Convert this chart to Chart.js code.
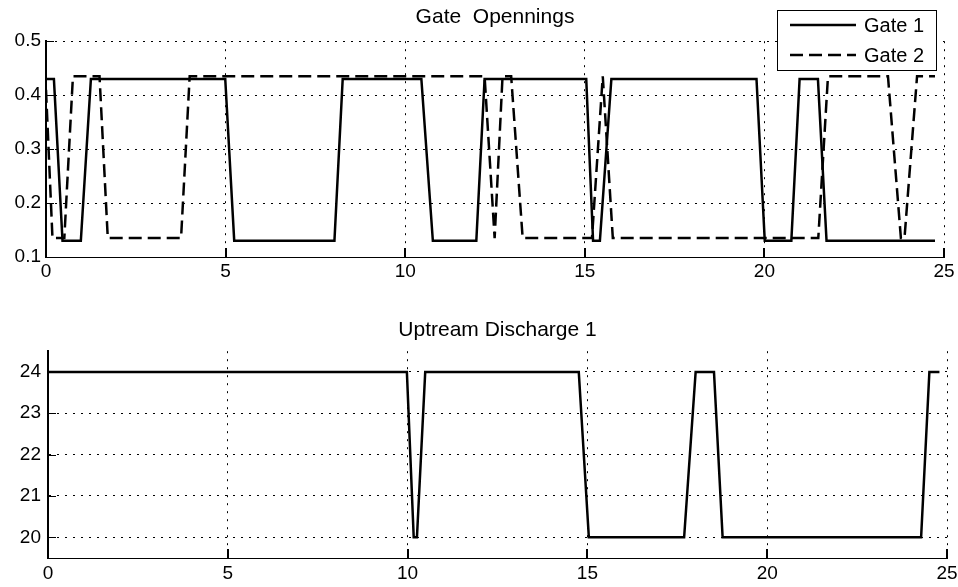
<!DOCTYPE html>
<html><head><meta charset="utf-8">
<script src="https://cdn.jsdelivr.net/npm/chart.js@4/dist/chart.umd.min.js"></script>
<style>
html,body{margin:0;padding:0;background:#fff;}
#wrap{position:relative;width:958px;height:587px;overflow:hidden;background:#fff;}
canvas{position:absolute;left:0;}
#c1{top:0;} #c2{top:290px;}
</style></head><body>
<div id="wrap">
<canvas id="c1" width="958" height="290"></canvas>
<canvas id="c2" width="958" height="297"></canvas>
</div>
<script>
// ---- data ----
const topTitle = 'Gate  Opennings';
const bottomTitle = 'Uptream Discharge 1';
const seriesNames = ['Gate 1', 'Gate 2'];
const xTicks = [0, 5, 10, 15, 20, 25];
const gateYTicks = [0.1, 0.2, 0.3, 0.4, 0.5];
const dischargeYTicks = [20, 21, 22, 23, 24];

const gate1X = [0, 0.22, 0.46, 0.97, 1.25, 4.99, 5.24, 8.03, 8.26, 10.45, 10.77, 11.98, 12.21, 15.04, 15.23, 15.42, 15.74, 19.78, 20.01, 20.75, 20.98, 21.49, 21.73, 24.75];
const gate1Y = [0.43, 0.43, 0.13, 0.13, 0.43, 0.43, 0.13, 0.13, 0.43, 0.43, 0.13, 0.13, 0.43, 0.43, 0.13, 0.13, 0.43, 0.43, 0.13, 0.13, 0.43, 0.43, 0.13, 0.13];

const gate2X = [0, 0.18, 0.51, 0.75, 1.49, 1.72, 3.76, 4.0, 12.21, 12.49, 12.71, 12.95, 13.27, 15.2, 15.5, 15.78, 21.5, 21.77, 23.44, 23.8, 23.9, 24.25, 24.75];
const gate2Y = [0.41, 0.135, 0.135, 0.435, 0.435, 0.135, 0.135, 0.435, 0.435, 0.135, 0.435, 0.435, 0.135, 0.135, 0.435, 0.135, 0.135, 0.435, 0.435, 0.135, 0.135, 0.435, 0.435];

const dischargeX = [0, 9.98, 10.17, 10.26, 10.49, 14.76, 15.04, 17.69, 18.01, 18.52, 18.76, 24.28, 24.51, 24.79];
const dischargeY = [24, 24, 20, 20, 24, 24, 20, 20, 24, 24, 20, 20, 24, 24];

// ---- setup ----
const FONT = '"Liberation Sans", Arial, Helvetica, sans-serif';
Chart.defaults.font.family = FONT;
Chart.defaults.color = '#000';

const pts = (xs, ys) => xs.map((x, i) => ({x: x, y: ys[i]}));

const inwardTicks = {
  id: 'inwardTicks',
  afterDraw(chart) {
    const {ctx, chartArea: a, scales: {x, y}} = chart;
    ctx.save();
    ctx.strokeStyle = '#000';
    ctx.setLineDash([]);
    ctx.lineWidth = 2;
    ctx.beginPath();
    x.ticks.forEach(t => { const p = Math.round(x.getPixelForValue(t.value)); ctx.moveTo(p, a.bottom); ctx.lineTo(p, a.bottom - 9); });
    ctx.stroke();
    ctx.lineWidth = 1;
    ctx.beginPath();
    y.ticks.forEach(t => { const p = Math.round(y.getPixelForValue(t.value)) + 0.5; ctx.moveTo(a.left, p); ctx.lineTo(a.left + 8, p); });
    ctx.stroke();
    ctx.restore();
  }
};

const boxLegend = {
  id: 'boxLegend',
  afterDraw(chart, args, opts) {
    if (!opts || !opts.show) return;
    const ctx = chart.ctx;
    const L = 777, T = 10, R = 937, B = 71;
    ctx.save();
    ctx.fillStyle = '#fff';
    ctx.fillRect(L, T, R - L, B - T);
    ctx.strokeStyle = '#000';
    ctx.lineWidth = 1;
    ctx.setLineDash([]);
    ctx.strokeRect(L + 0.5, T + 0.5, R - L - 1, B - T - 1);
    chart.data.datasets.forEach((ds, i) => {
      const cy = 25 + i * 30;
      ctx.beginPath();
      ctx.setLineDash(ds.borderDash || []);
      ctx.lineWidth = 2.5;
      ctx.moveTo(790, cy);
      ctx.lineTo(856, cy);
      ctx.stroke();
      ctx.setLineDash([]);
      ctx.fillStyle = '#000';
      ctx.font = '20px ' + FONT;
      ctx.textBaseline = 'middle';
      ctx.textAlign = 'left';
      ctx.fillText(ds.label, 864, cy + 1);
    });
    ctx.restore();
  }
};

function makeScales(yTicks, yMin, yMax, yWidth, xHeight, yPad, xPad) {
  const dash = [2, 6];
  return {
    x: {
      type: 'linear', min: 0, max: 25,
      afterBuildTicks: s => { s.ticks = xTicks.map(v => ({value: v})); },
      afterFit: s => { s.height = xHeight; s.paddingLeft = 0; s.paddingRight = 0; },
      grid: {color: '#000', lineWidth: 1, drawTicks: false, borderDash: dash},
      border: {display: true, color: '#000', width: 1, dash: dash},
      ticks: {color: '#000', font: {size: 19}, padding: xPad, maxRotation: 0, autoSkip: false}
    },
    y: {
      type: 'linear', min: yMin, max: yMax,
      afterBuildTicks: s => { s.ticks = yTicks.map(v => ({value: v})); },
      afterFit: s => { s.width = yWidth; s.paddingTop = 0; s.paddingBottom = 0; },
      grid: {color: '#000', lineWidth: 1, drawTicks: false, borderDash: dash},
      border: {display: true, color: '#000', width: 2, dash: dash},
      ticks: {color: '#000', font: {size: 19}, padding: yPad, autoSkip: false}
    }
  };
}

new Chart(document.getElementById('c1'), {
  type: 'scatter',
  data: {
    datasets: [
      {label: seriesNames[0], data: pts(gate1X, gate1Y), showLine: true, borderColor: '#000', borderWidth: 2.5, pointRadius: 0, tension: 0, order: 1},
      {label: seriesNames[1], data: pts(gate2X, gate2Y), showLine: true, borderColor: '#000', borderWidth: 2.5, borderDash: [13, 6], pointRadius: 0, tension: 0, order: 0}
    ]
  },
  options: {
    responsive: false, animation: false, devicePixelRatio: 1,
    layout: {padding: {left: 0, right: 14, top: 0, bottom: 0}},
    scales: makeScales(gateYTicks, 0.1, 0.5, 46, 33, 5, 3),
    plugins: {
      legend: {display: false},
      tooltip: {enabled: false},
      title: {display: true, fullSize: false, text: topTitle, color: '#000', font: {size: 21, weight: 'normal'}, padding: {top: 5, bottom: 11}},
      boxLegend: {show: true}
    }
  },
  plugins: [inwardTicks, boxLegend]
});

new Chart(document.getElementById('c2'), {
  type: 'scatter',
  data: {
    datasets: [
      {label: 'Discharge', data: pts(dischargeX, dischargeY), showLine: true, borderColor: '#000', borderWidth: 2.5, pointRadius: 0, tension: 0}
    ]
  },
  options: {
    responsive: false, animation: false, devicePixelRatio: 1,
    layout: {padding: {left: 0, right: 11, top: 0, bottom: 0}},
    scales: makeScales(dischargeYTicks, 19.5, 24.5, 48, 29, 7, 4),
    plugins: {
      legend: {display: false},
      tooltip: {enabled: false},
      title: {display: true, fullSize: false, text: bottomTitle, color: '#000', font: {size: 21, weight: 'normal'}, padding: {top: 28, bottom: 8}},
      boxLegend: {show: false}
    }
  },
  plugins: [inwardTicks, boxLegend]
});
</script>
</body></html>
